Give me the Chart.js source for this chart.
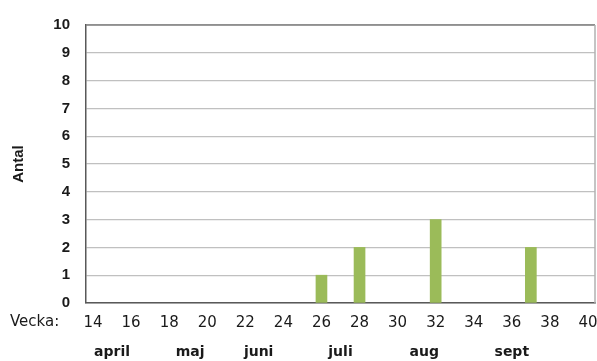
<!DOCTYPE html>
<html>
<head>
<meta charset="utf-8">
<script src="https://cdn.jsdelivr.net/npm/chart.js@4"></script>
<style>
  html, body { margin: 0; padding: 0; background: #fff; }
  #wrap { width: 597px; height: 361px; }
</style>
</head>
<body>
<div id="wrap"><canvas id="chart"></canvas></div>
<script>
// veckor med fall
const weeks = [26, 28, 32, 37];
const counts = [1, 2, 3, 2];
// veckonummer som visas under axeln
const weekTicks = [14, 16, 18, 20, 22, 24, 26, 28, 30, 32, 34, 36, 38, 40];
// månader och ungefärlig vecka där namnet står
const months = ['april', 'maj', 'juni', 'juli', 'aug', 'sept'];
const monthWeeks = [15, 19.1, 22.7, 27, 31.4, 36];

// extra text: "Vecka:", månader och ramen upptill/höger
const extras = {
  id: 'extras',
  afterDraw(chart) {
    const { ctx, chartArea: a, scales: { x } } = chart;
    ctx.save();
    // ram
    ctx.strokeStyle = '#7f7f7f';
    ctx.lineWidth = 1.5;
    ctx.beginPath();
    ctx.moveTo(a.left, a.top);
    ctx.lineTo(a.right, a.top);
    ctx.stroke();
    ctx.strokeStyle = '#b0b0b0';
    ctx.beginPath();
    ctx.moveTo(a.right, a.top);
    ctx.lineTo(a.right, a.bottom);
    ctx.stroke();

    ctx.fillStyle = '#1a1a1a';
    ctx.textBaseline = 'middle';
    ctx.font = '15px "DejaVu Sans"';
    ctx.textAlign = 'left';
    ctx.fillText('Vecka:', 10, 322);

    ctx.font = 'bold 14px "DejaVu Sans"';
    ctx.textAlign = 'center';
    months.forEach((m, i) => {
      ctx.fillText(m, x.getPixelForValue(monthWeeks[i]), 352);
    });
    ctx.restore();
  }
};

new Chart(document.getElementById('chart'), {
  type: 'bar',
  data: {
    datasets: [{
      label: 'Antal',
      data: weeks.map((w, i) => ({ x: w, y: counts[i] })),
      backgroundColor: '#9bbb59',
      barThickness: 11
    }]
  },
  options: {
    responsive: true,
    maintainAspectRatio: false,
    animation: false,
    layout: { padding: { top: 23, right: 2, left: 0, bottom: 0 } },
    plugins: {
      legend: { display: false },
      tooltip: { enabled: false }
    },
    scales: {
      x: {
        type: 'linear',
        offset: false,
        min: 13.63,
        max: 40.37,
        afterBuildTicks: (scale) => { scale.ticks = weekTicks.map(v => ({ value: v })); },
        afterFit: (scale) => {
          scale.height = 58;
          scale.paddingLeft = 0;
          scale.paddingRight = 0;
        },
        grid: { display: false, drawTicks: false, offset: false },
        border: { color: '#595959', width: 1.5 },
        ticks: {
          color: '#1a1a1a',
          font: { family: '"DejaVu Sans"', size: 15 },
          padding: 11,
          maxRotation: 0,
          autoSkip: false
        }
      },
      y: {
        min: 0,
        max: 10,
        afterFit: (scale) => { scale.width = 86; },
        grid: { color: '#c0c0c0', lineWidth: 1.2, drawTicks: false },
        border: { color: '#595959', width: 1.5 },
        ticks: {
          stepSize: 1,
          color: '#1a1a1a',
          font: { family: '"Liberation Sans"', size: 15, weight: 'bold' },
          padding: 16
        },
        title: {
          display: true,
          text: 'Antal',
          color: '#1a1a1a',
          font: { family: '"Liberation Sans"', size: 15, weight: 'bold' },
          padding: { top: 10, bottom: 0 }
        }
      }
    }
  },
  plugins: [extras]
});
</script>
</body>
</html>
